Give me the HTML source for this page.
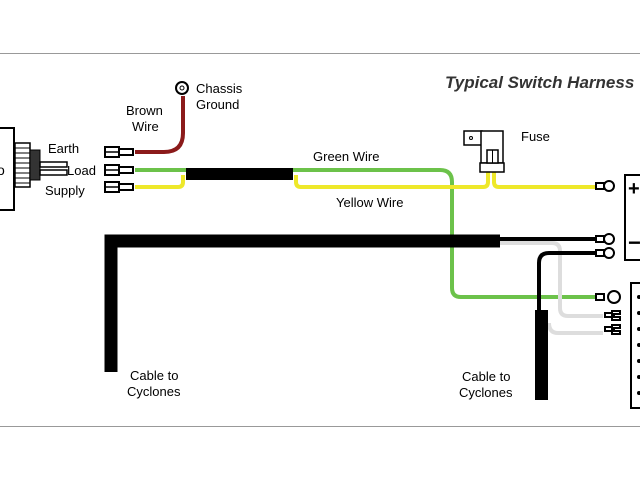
<!DOCTYPE html>
<html><head><style>
html,body{margin:0;padding:0;background:#fff;}
svg{display:block;font-family:"Liberation Sans",sans-serif;}
</style></head><body>
<svg width="640" height="480" viewBox="0 0 640 480" xmlns="http://www.w3.org/2000/svg">
<rect width="640" height="480" fill="#fff"/>
<line x1="0" y1="53.5" x2="640" y2="53.5" stroke="#999" stroke-width="1"/>
<line x1="0" y1="426.5" x2="640" y2="426.5" stroke="#999" stroke-width="1"/>
<text x="445" y="88" font-style="italic" font-weight="bold" font-size="17" fill="#333">Typical Switch Harness</text>

<!-- switch -->
<rect x="-2" y="128" width="16" height="82" fill="#fff" stroke="#000" stroke-width="2"/>
<text x="-3" y="175" font-size="14">o</text>
<rect x="15" y="143" width="15" height="44" fill="#fff" stroke="#000" stroke-width="1.5"/>
<g stroke="#000" stroke-width="1">
<line x1="15" y1="148" x2="30" y2="148"/><line x1="15" y1="153" x2="30" y2="153"/><line x1="15" y1="158" x2="30" y2="158"/><line x1="15" y1="163" x2="30" y2="163"/><line x1="15" y1="168" x2="30" y2="168"/><line x1="15" y1="173" x2="30" y2="173"/><line x1="15" y1="178" x2="30" y2="178"/><line x1="15" y1="183" x2="30" y2="183"/>
</g>
<rect x="30" y="150" width="10" height="30" fill="#333" stroke="#000"/>
<rect x="40" y="162" width="27" height="5" fill="#fff" stroke="#000" stroke-width="1.5"/>
<rect x="40" y="170" width="27" height="5" fill="#fff" stroke="#000" stroke-width="1.5"/>
<text x="48" y="153" font-size="13">Earth</text>
<text x="67" y="175" font-size="13">Load</text>
<text x="45" y="195" font-size="13">Supply</text>

<!-- wires -->
<path d="M135 152 H164 Q183 152 183 133 V96" fill="none" stroke="#8b1a1a" stroke-width="4"/>
<circle cx="182" cy="88" r="6" fill="#fff" stroke="#000" stroke-width="2"/>
<circle cx="182" cy="88" r="2" fill="#fff" stroke="#000" stroke-width="1"/>
<text x="196" y="93" font-size="13">Chassis</text>
<text x="196" y="109" font-size="13">Ground</text>
<text x="126" y="115" font-size="13">Brown</text>
<text x="132" y="131" font-size="13">Wire</text>

<path d="M135 170 H440 Q452 170 452 182 V288 Q452 297 461 297 H603" fill="none" stroke="#6cc24a" stroke-width="4"/>
<path d="M135 187 H178 Q183 187 183 182 V175" fill="none" stroke="#eee82a" stroke-width="4"/>
<path d="M296 175 V182 Q296 187 301 187 H483 Q488 187 488 182 V170 M494 170 V182 Q494 187 499 187 H602" fill="none" stroke="#eee82a" stroke-width="4"/>
<rect x="186" y="168" width="107" height="12" fill="#000"/>
<text x="313" y="161" font-size="13">Green Wire</text>
<text x="336" y="207" font-size="13">Yellow Wire</text>

<!-- connectors -->
<g fill="#fff" stroke="#000" stroke-width="2">
<rect x="105" y="147" width="14" height="10"/><rect x="119" y="149" width="14" height="6"/>
<rect x="105" y="165" width="14" height="10"/><rect x="119" y="167" width="14" height="6"/>
<rect x="105" y="182" width="14" height="10"/><rect x="119" y="184" width="14" height="6"/>
</g>
<g stroke="#000" stroke-width="1.5"><line x1="105" y1="152" x2="119" y2="152"/><line x1="105" y1="170" x2="119" y2="170"/><line x1="105" y1="187" x2="119" y2="187"/></g>

<!-- fuse -->
<rect x="464" y="131" width="18" height="14" fill="#fff" stroke="#000" stroke-width="1.5"/>
<circle cx="471" cy="138" r="1.5" fill="none" stroke="#000"/>
<rect x="481" y="131" width="22" height="32" fill="#fff" stroke="#000" stroke-width="1.5"/>
<rect x="480" y="163" width="24" height="9" fill="#fff" stroke="#000" stroke-width="1.5"/>
<rect x="487" y="150" width="11" height="13" fill="#fff" stroke="#000" stroke-width="1.5"/>
<line x1="492.5" y1="150" x2="492.5" y2="163" stroke="#000"/>
<text x="521" y="141" font-size="13">Fuse</text>

<!-- black cable -->
<path d="M111 372 V241 H500" fill="none" stroke="#000" stroke-width="13"/>
<path d="M500 239 H603" stroke="#000" stroke-width="4" fill="none"/>
<path d="M500 243 H552 Q560 243 560 251 V308 Q560 316 568 316 H603" stroke="#ddd" stroke-width="4" fill="none"/>
<path d="M603 253 H549 Q539 253 539 263 V310" stroke="#000" stroke-width="4" fill="none"/>
<path d="M549 323 Q549 333 558 333 H603" stroke="#ddd" stroke-width="4" fill="none"/>
<rect x="535" y="310" width="13" height="90" fill="#000"/>
<text x="130" y="380" font-size="13">Cable to</text>
<text x="127" y="396" font-size="13">Cyclones</text>
<text x="462" y="381" font-size="13">Cable to</text>
<text x="459" y="397" font-size="13">Cyclones</text>

<!-- ring terminals -->
<g fill="#fff" stroke="#000" stroke-width="2">
<rect x="596" y="183" width="8" height="6"/><circle cx="609" cy="186" r="5"/>
<rect x="596" y="236" width="8" height="6"/><circle cx="609" cy="239" r="5"/>
<rect x="596" y="250" width="8" height="6"/><circle cx="609" cy="253" r="5"/>
<rect x="596" y="294" width="8" height="6"/><circle cx="614" cy="297" r="6"/>
<path d="M605 313 H612 V317 H605 Z M612 311 H620 V314 H614 V317 H620 V320 H612 Z"/>
<path d="M605 327 H612 V331 H605 Z M612 325 H620 V328 H614 V331 H620 V334 H612 Z"/>
</g>

<!-- battery / right box -->
<rect x="625" y="175" width="20" height="85" fill="#fff" stroke="#000" stroke-width="2"/>
<text x="628" y="195" font-size="20" font-weight="bold">+</text>
<text x="628" y="250" font-size="22" font-weight="bold">−</text>
<rect x="631" y="283" width="15" height="125" fill="#fff" stroke="#000" stroke-width="2"/>
<g fill="#000"><circle cx="639" cy="297" r="2"/><circle cx="639" cy="313" r="2"/><circle cx="639" cy="329" r="2"/><circle cx="639" cy="345" r="2"/><circle cx="639" cy="361" r="2"/><circle cx="639" cy="377" r="2"/><circle cx="639" cy="393" r="2"/></g>
</svg>
</body></html>
